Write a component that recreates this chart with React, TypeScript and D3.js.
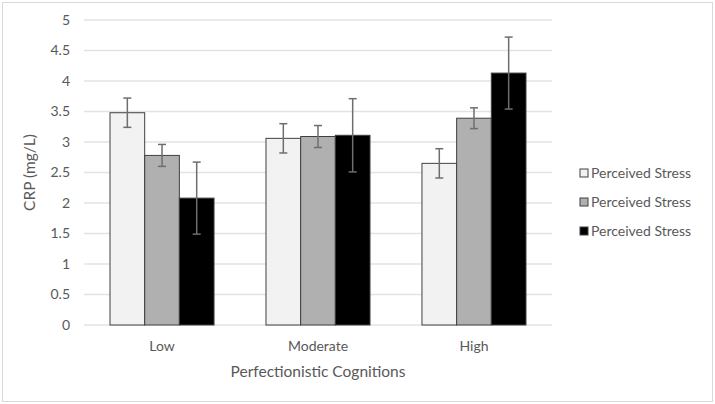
import React from "react";
import * as d3 from "d3";

const categories = ["Low", "Moderate", "High"];
const seriesNames = ["Perceived Stress", "Perceived Stress", "Perceived Stress"];
const seriesColors = ["#f2f2f2", "#b0b0b0", "#000000"];
const lightValues = [3.48, 3.06, 2.65];
const grayValues = [2.78, 3.09, 3.39];
const blackValues = [2.08, 3.11, 4.13];
const lightErr = [0.24, 0.24, 0.24];
const grayErr = [0.18, 0.18, 0.17];
const blackErr = [0.59, 0.6, 0.59];
const yTicks = [0, 0.5, 1, 1.5, 2, 2.5, 3, 3.5, 4, 4.5, 5];
const yTickLabels = ["0", "0.5", "1", "1.5", "2", "2.5", "3", "3.5", "4", "4.5", "5"];

const W = 715;
const H = 404;
const plot = { left: 84, right: 552, top: 20, bottom: 325 };
const font = "Lato, 'Liberation Sans', Arial, sans-serif";
const textColor = "#595959";

export default function App() {
  const series = [lightValues, grayValues, blackValues];
  const errs = [lightErr, grayErr, blackErr];
  const x0 = d3.scaleBand<string>().domain(categories).range([plot.left, plot.right]).paddingInner(0.333).paddingOuter(0.1667);
  const x1 = d3.scaleBand<number>().domain([0, 1, 2]).range([0, x0.bandwidth()]);
  const y = d3.scaleLinear().domain([0, 5]).range([plot.bottom, plot.top]);

  return (
    <svg width={W} height={H} style={{ position: "absolute", left: 0, top: 0 }} fontFamily={font}>
      <rect x={0} y={0} width={W} height={H} fill="#fff" />
      <rect x={2.5} y={2.5} width={W - 5} height={H - 5} fill="none" stroke="#d9d9d9" strokeWidth={1} />
      {yTicks.map((t, i) => (
        <g key={i}>
          <line x1={plot.left} x2={plot.right} y1={y(t)} y2={y(t)} stroke="#e3e3e3" strokeWidth={1.3} />
          <text x={70} y={y(t)} dy="0.35em" textAnchor="end" fontSize={14} fill={textColor}>
            {yTickLabels[i]}
          </text>
        </g>
      ))}
      {categories.map((c, ci) => (
        <g key={c}>
          {series.map((vals, si) => {
            const bx = (x0(c) as number) + (x1(si) as number);
            const bw = x1.bandwidth();
            return (
              <rect key={si} x={bx} y={y(vals[ci])} width={bw} height={y(0) - y(vals[ci])}
                fill={seriesColors[si]} stroke="#404040" strokeWidth={1} />
            );
          })}
          {series.map((vals, si) => {
            const cx = (x0(c) as number) + (x1(si) as number) + x1.bandwidth() / 2;
            const hi = y(vals[ci] + errs[si][ci]);
            const lo = y(vals[ci] - errs[si][ci]);
            return (
              <g key={"e" + si} stroke="#6e6e6e" strokeWidth={1.5}>
                <line x1={cx} x2={cx} y1={hi} y2={lo} />
                <line x1={cx - 4} x2={cx + 4} y1={hi} y2={hi} />
                <line x1={cx - 4} x2={cx + 4} y1={lo} y2={lo} />
              </g>
            );
          })}
          <text x={(x0(c) as number) + x0.bandwidth() / 2} y={351} textAnchor="middle" fontSize={14} fill={textColor}>
            {c}
          </text>
        </g>
      ))}
      <text x={(plot.left + plot.right) / 2} y={377} textAnchor="middle" fontSize={15.5} fill={textColor}>
        Perfectionistic Cognitions
      </text>
      <text transform={`translate(35, ${(plot.top + plot.bottom) / 2}) rotate(-90)`} textAnchor="middle" fontSize={15.5} fill={textColor}>
        CRP  (mg/L)
      </text>
      {seriesNames.map((n, i) => (
        <g key={i} transform={`translate(580, ${173 + i * 29})`}>
          <rect x={0} y={-4} width={8} height={8} fill={seriesColors[i]} stroke="#404040" strokeWidth={1} />
          <text x={11} y={0} dy="0.35em" fontSize={14} fill={textColor}>
            {n}
          </text>
        </g>
      ))}
    </svg>
  );
}
